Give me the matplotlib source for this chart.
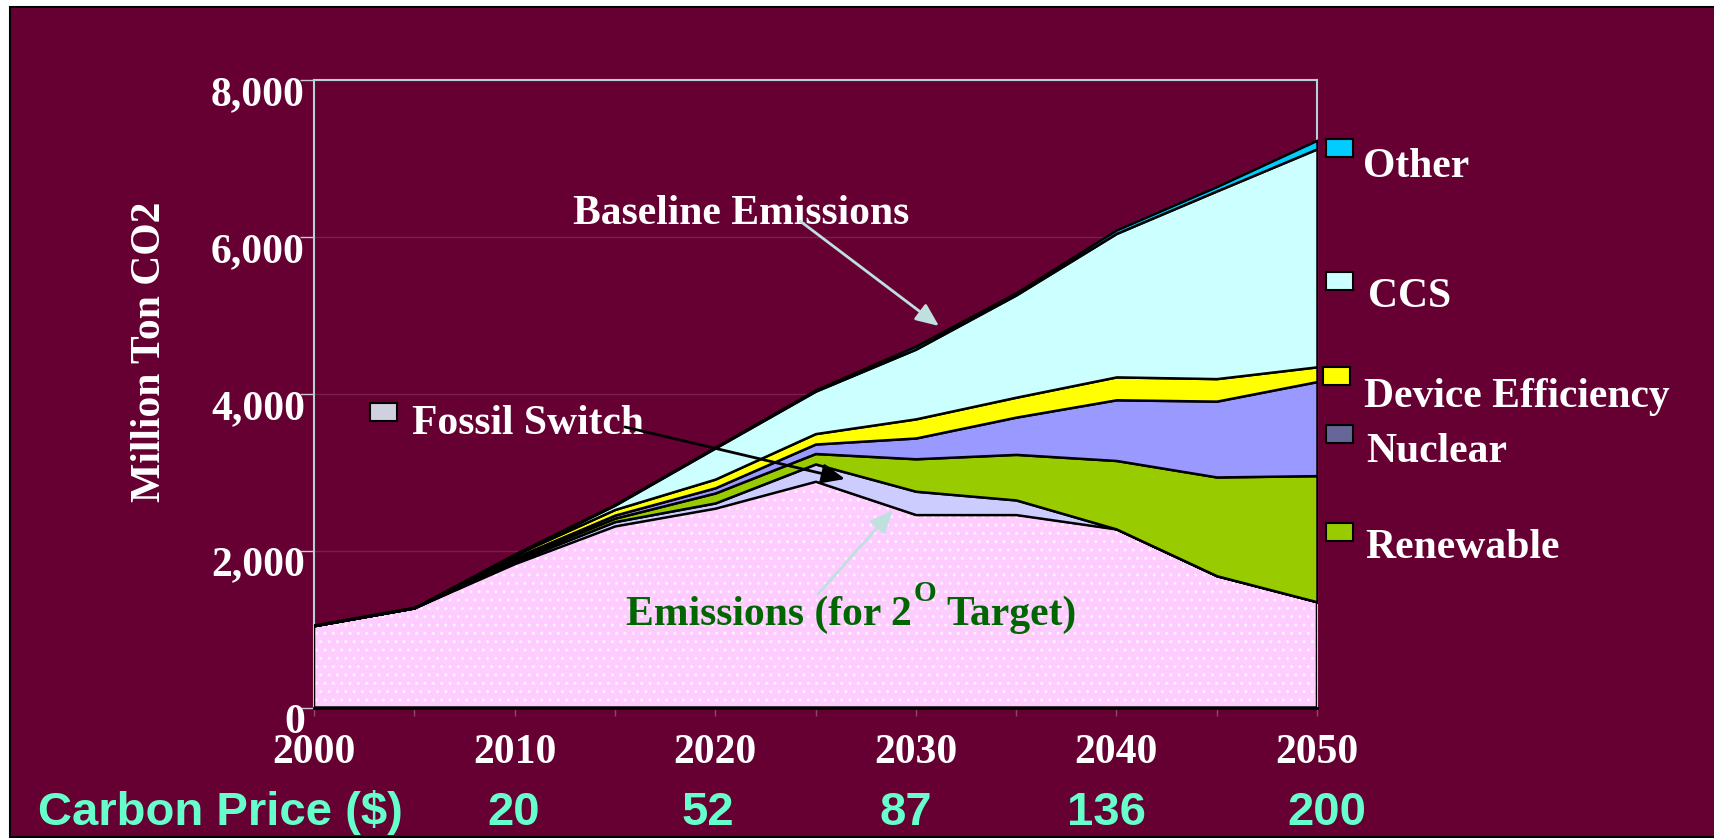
import matplotlib
matplotlib.use('agg')
import matplotlib.pyplot as plt
from matplotlib.patches import Rectangle, FancyArrowPatch
from matplotlib.transforms import ScaledTranslation
import numpy as np

# wedges of the stabilisation chart, million ton CO2 (stacked from the bottom)
years = [2000, 2005, 2010, 2015, 2020, 2025, 2030, 2035, 2040, 2045, 2050]
target_emissions = [1044, 1271, 1834, 2315, 2541, 2884, 2459, 2459, 2276, 1680, 1348]
fossil_switch = [0, 0, 28, 55, 67, 221, 298, 187, 0, 0, 0]
renewable = [0, 0, 28, 44, 127, 133, 414, 581, 873, 1259, 1608]
nuclear = [0, 0, 22, 39, 66, 121, 265, 475, 774, 967, 1199]
device_eff = [0, 0, 33, 72, 111, 133, 244, 254, 292, 287, 188]
ccs = [0, 0, 5, 55, 397, 541, 889, 1304, 1829, 2393, 2779]
other = [0, 0, 5, 10, 11, 17, 39, 27, 44, 55, 110]

y_ticks = [0, 2000, 4000, 6000, 8000]
x_ticks = [2000, 2010, 2020, 2030, 2040, 2050]
price_years = [2010, 2020, 2030, 2040, 2050]
carbon_price = [20, 52, 87, 136, 200]

BG = '#660033'
W, H = 1715, 838

plt.rcParams['font.family'] = 'Liberation Serif'
plt.rcParams['font.weight'] = 'bold'
plt.rcParams['hatch.linewidth'] = 1.0


def fx(x):
    return x / W


def fy(y):
    return 1 - y / H


fig = plt.figure(figsize=(W / 100, H / 100), dpi=100, facecolor='white')
# slide background with its thin black frame
fig.add_artist(Rectangle((fx(10), fy(837)), (W + 10) / W, 830 / H, transform=fig.transFigure,
                         facecolor=BG, edgecolor='black', lw=1.5, zorder=-5))

ax = fig.add_axes([fx(314), fy(707.5), (1317 - 314) / W, (707.5 - 80) / H])
ax.set_facecolor(BG)
ax.set_xlim(2000, 2050)
ax.set_ylim(0, 8000)

# bottom area: emissions for the 2 degree target, dotted pink
ax.fill_between(years, 0, target_emissions, facecolor='#FFCCFF', edgecolor='#FFF2FF',
                hatch='..', lw=0, zorder=3)
ax.fill_between(years, 0, target_emissions, facecolor='none', edgecolor='black', lw=1.8, zorder=3)

layers = [fossil_switch, renewable, nuclear, device_eff, ccs, other]
colors = ['#CCCCFF', '#99CC00', '#9999FF', '#FFFF00', '#CCFFFF', '#00CCFF']
low = np.array(target_emissions, dtype=float)
for vals, c in zip(layers, colors):
    high = low + np.array(vals)
    ax.fill_between(years, low, high, facecolor=c, edgecolor='black', lw=1.8, zorder=3)
    low = high

# axes frame
for s in ['left', 'top', 'right']:
    ax.spines[s].set_color('#B0D4D4')
    ax.spines[s].set_linewidth(1.5)
ax.spines['bottom'].set_color('black')
ax.spines['bottom'].set_linewidth(2)
ax.set_axisbelow(True)
ax.yaxis.grid(True, color='#78204A', lw=1)

ax.set_xticks(x_ticks)
ax.set_xticks([2005, 2015, 2025, 2035, 2045], minor=True)
ax.set_xticklabels([str(x) for x in x_ticks])
ax.tick_params(axis='x', which='both', length=6, width=1, color='#8A4868', pad=13,
               labelsize=30, labelcolor='white')
ax.set_yticks(y_ticks)
ax.set_yticklabels([])
ax.tick_params(axis='y', length=10, width=1, color='#C8C8D0')
# PowerPoint draws the y labels a bit below their ticks
for v in y_ticks:
    ax.text(0, v, f'{v:,}', transform=ax.get_yaxis_transform() +
            ScaledTranslation(-9 / 100, -15 / 100, fig.dpi_scale_trans),
            ha='right', va='center', fontsize=30, color='white')

fig.text(fx(150), fy(352), 'Million Ton CO2', rotation=90, ha='center', va='center',
         fontsize=30, color='white')

# legend on the right
legend_items = [('Other', '#00CCFF', 1326, 139, 1363, 177),
                ('CCS', '#CCFFFF', 1326, 272, 1368, 307),
                ('Device Efficiency', '#FFFF00', 1323, 367, 1364, 407),
                ('Nuclear', '#666699', 1326, 425, 1366, 462),
                ('Renewable', '#99CC00', 1326, 523, 1365, 558),
                ('Fossil Switch', '#D0D0E0', 370, 403, 412, 434)]
for name, c, sx, sy, tx, ty in legend_items:
    fig.add_artist(Rectangle((fx(sx), fy(sy + 18)), 27 / W, 18 / H, transform=fig.transFigure,
                             facecolor=c, edgecolor='black', lw=1.5))
    fig.text(fx(tx), fy(ty), name, ha='left', va='baseline', fontsize=30, color='white')

# annotations
fig.text(fx(741), fy(224), 'Baseline Emissions', ha='center', va='baseline',
         fontsize=30, color='white')
fig.text(fx(912), fy(625), 'Emissions (for 2', ha='right', va='baseline',
         fontsize=30, color='#006600')
fig.text(fx(914), fy(601), 'O', ha='left', va='baseline', fontsize=21, color='#006600')
fig.text(fx(946), fy(625), 'Target)', ha='left', va='baseline', fontsize=30, color='#006600')

arrows = [((800, 221), (939, 326), '#C0E0E0'),
          ((625, 427), (845, 479), 'black'),
          ((818, 594), (893, 510), '#C0E0E0')]
for (x0, y0), (x1, y1), c in arrows:
    fig.add_artist(FancyArrowPatch(
        (fx(x0), fy(y0)), (fx(x1), fy(y1)), transform=fig.transFigure,
        arrowstyle='-|>,head_length=0.7,head_width=0.3', mutation_scale=20,
        color=c, lw=2, shrinkA=0, shrinkB=0, zorder=5))

# carbon price row
fig.text(fx(38), fy(825), 'Carbon Price ($)', family='Liberation Sans', ha='left',
         va='baseline', fontsize=34, color='#66FFCC')
price_shift = [-1, -7, -10, -10, 10]
for yr, p, dx in zip(price_years, carbon_price, price_shift):
    xf = fig.transFigure.inverted().transform(ax.transData.transform((yr, 0)))[0] + dx / W
    fig.text(xf, fy(825), str(p), family='Liberation Sans', ha='center', va='baseline',
             fontsize=34, color='#66FFCC')

fig.savefig('out.png', dpi=100, facecolor=fig.get_facecolor())
